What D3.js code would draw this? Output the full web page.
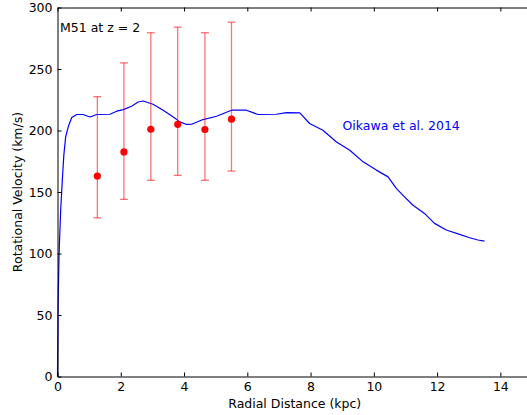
<!DOCTYPE html>
<html>
<head>
<meta charset="utf-8">
<script src="https://cdnjs.cloudflare.com/ajax/libs/d3/7.8.5/d3.min.js"></script>
<style>
  html, body { margin: 0; padding: 0; background: #fff; }
  svg { display: block; font-family: "DejaVu Sans", sans-serif; }
</style>
</head>
<body>
<figure id="chart" style="margin:0"></figure>
<script>
// Oikawa et al. 2014 rotation curve (kpc, km/s)
const curveR = [0, 0.02, 0.05, 0.10, 0.16, 0.20, 0.26, 0.34, 0.45, 0.61, 0.81, 1.03, 1.24, 1.66, 1.87, 2.08,
  2.34, 2.55, 2.71, 3.02, 3.34, 3.66, 3.87, 4.08, 4.24, 4.60, 5.03, 5.50, 5.97, 6.34, 6.92, 7.24, 7.66,
  7.97, 8.39, 8.82, 9.24, 9.66, 10.08, 10.45, 10.71, 10.97, 11.23, 11.60, 11.92, 12.29, 12.71, 13.03, 13.29, 13.50];
const curveV = [0, 60, 100, 135, 163, 180, 195, 203, 210.5, 213, 213, 211, 213, 213.2, 215.7, 217,
  219.7, 223.2, 224, 221.3, 216.5, 211, 207, 204.9, 205.1, 208.9, 211.6, 216.5, 216.5, 213, 213.2, 214.6, 214.3,
  205.7, 200.2, 190.7, 184, 174.5, 167.8, 162.3, 152.9, 146.1, 139.4, 132.6, 124.5, 119.1, 115.6, 112.8, 111, 110.1];

// M51 at z = 2 points with error bars
const pointR = [1.26, 2.10, 2.95, 3.80, 4.66, 5.50];
const pointV = [163, 182.6, 201, 205, 200.8, 209.2];
const errLow = [129, 144, 159.5, 163.5, 159.5, 167];
const errHigh = [227.5, 255, 279.5, 284, 279.5, 288];

const xTicks = [0, 2, 4, 6, 8, 10, 12, 14];
const yTicks = [0, 50, 100, 150, 200, 250, 300];

const width = 527, height = 415;
const plotLeft = 57.5, plotRight = 532, plotTop = 7.5, plotBottom = 376.5;

const svg = d3.select("figure#chart")
  .append("svg")
  .attr("width", width)
  .attr("height", height);

const x = d3.scaleLinear().domain([0, 15]).range([plotLeft, plotRight]);
const y = d3.scaleLinear().domain([0, 300]).range([plotBottom, plotTop]);

const plot = svg.append("g");

// curve
const curve = curveR.map((r, i) => ({ r: r, v: curveV[i] }));
plot.append("path")
  .datum(curve)
  .attr("fill", "none")
  .attr("stroke", "#0000ff")
  .attr("stroke-width", 1.2)
  .attr("stroke-linejoin", "round")
  .attr("d", d3.line().x(d => x(d.r)).y(d => y(d.v)));

// error bars
const pts = pointR.map((r, i) => ({ r: r, v: pointV[i], lo: errLow[i], hi: errHigh[i] }));
const errColor = "rgba(255,0,0,0.55)";
const eb = plot.selectAll("g.eb")
  .data(pts)
  .enter()
  .append("g");

eb.append("line")
  .attr("x1", d => x(d.r)).attr("x2", d => x(d.r))
  .attr("y1", d => y(d.lo)).attr("y2", d => y(d.hi))
  .attr("stroke", errColor).attr("stroke-width", 1.3);
eb.append("line")
  .attr("x1", d => x(d.r) - 4).attr("x2", d => x(d.r) + 4)
  .attr("y1", d => y(d.lo)).attr("y2", d => y(d.lo))
  .attr("stroke", errColor).attr("stroke-width", 1.3);
eb.append("line")
  .attr("x1", d => x(d.r) - 4).attr("x2", d => x(d.r) + 4)
  .attr("y1", d => y(d.hi)).attr("y2", d => y(d.hi))
  .attr("stroke", errColor).attr("stroke-width", 1.3);
eb.append("circle")
  .attr("cx", d => x(d.r))
  .attr("cy", d => y(d.v))
  .attr("r", 3.6)
  .attr("fill", "#ff0000");

// axes, ticks pointing inward
svg.append("g")
  .attr("transform", "translate(0," + plotBottom + ")")
  .call(d3.axisBottom(x).tickValues(xTicks).tickSizeInner(-4).tickSizeOuter(0).tickPadding(6));
svg.append("g")
  .attr("transform", "translate(0," + plotTop + ")")
  .call(d3.axisTop(x).tickValues(xTicks).tickSizeInner(-4).tickSizeOuter(0).tickFormat(""));
svg.append("g")
  .attr("transform", "translate(" + plotLeft + ",0)")
  .call(d3.axisLeft(y).tickValues(yTicks).tickSizeInner(-4).tickSizeOuter(0).tickPadding(5));

svg.selectAll(".domain").attr("stroke", "#000").attr("stroke-width", 1);
svg.selectAll(".tick line").attr("stroke", "#000");
svg.selectAll(".tick text")
  .attr("fill", "#000")
  .style("font-size", "12.5px")
  .style("font-family", "'DejaVu Sans', sans-serif");

// axis labels
svg.append("text")
  .attr("x", (plotLeft + plotRight) / 2)
  .attr("y", 408)
  .attr("text-anchor", "middle")
  .style("font-size", "12.5px")
  .text("Radial Distance (kpc)");

svg.append("text")
  .attr("transform", "translate(22," + (plotTop + plotBottom) / 2 + ") rotate(-90)")
  .attr("text-anchor", "middle")
  .style("font-size", "12.5px")
  .text("Rotational Velocity (km/s)");

// annotations
svg.append("text")
  .attr("x", 60)
  .attr("y", 32)
  .style("font-size", "12.5px")
  .attr("fill", "#000")
  .text("M51 at z = 2");

svg.append("text")
  .attr("x", 342.5)
  .attr("y", 130)
  .style("font-size", "12.5px")
  .attr("fill", "#0000ff")
  .text("Oikawa et al. 2014");
</script>
</body>
</html>
